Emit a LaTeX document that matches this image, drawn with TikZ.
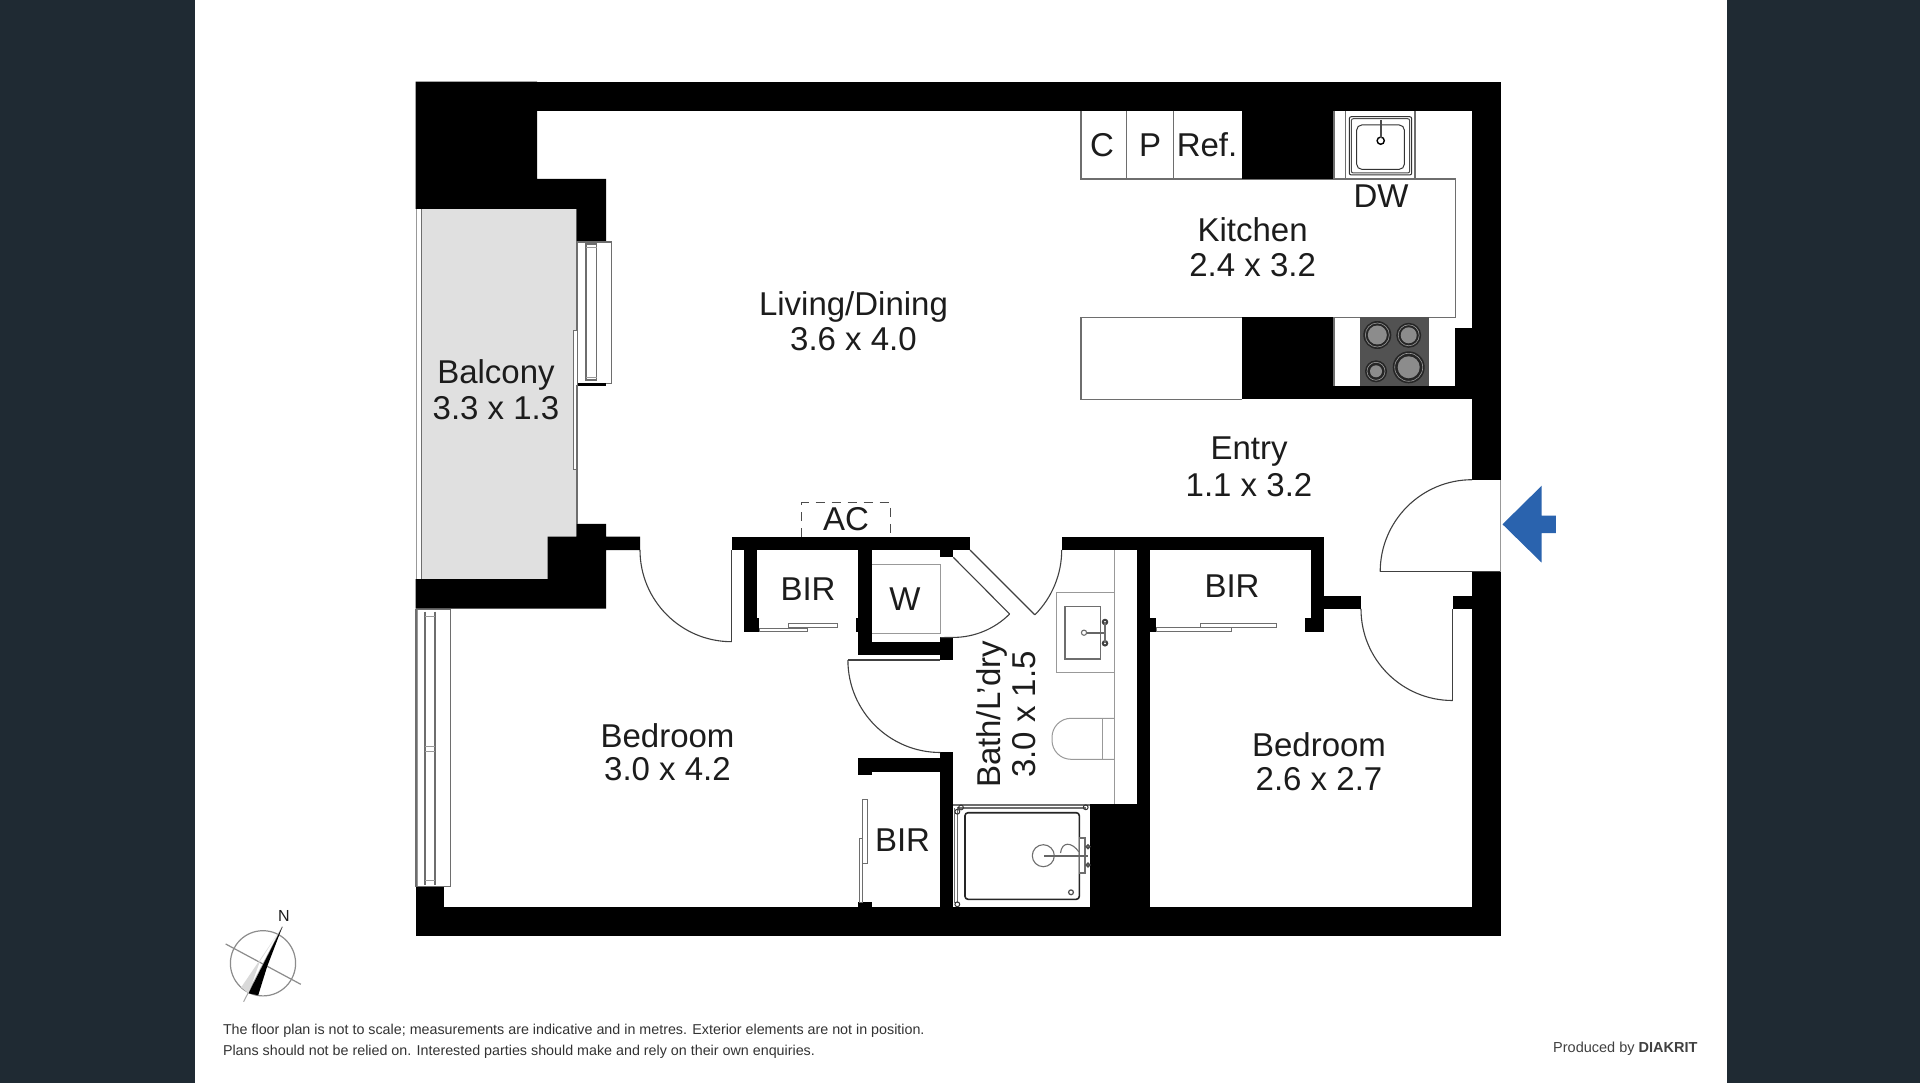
\documentclass[tikz,border=0pt]{standalone}
\usepackage{fontspec}
\setmainfont{Liberation Sans}
\definecolor{panel}{HTML}{1F2A33}
\definecolor{txt}{HTML}{1C1C1C}
\definecolor{balc}{HTML}{E0E0E0}
\definecolor{fixline}{HTML}{6E6E6E}
\definecolor{arrowblue}{HTML}{2A63AE}
\tikzset{
  wall/.style={fill=black,draw=none},
  fix/.style={draw=fixline,line width=1.1pt},
  fixlight/.style={draw=fixline!70,line width=1pt},
  door/.style={draw=black!75,line width=1.1pt},
  slider/.style={draw=fixline,fill=white,line width=1pt},
  lab/.style={font=\fontsize{33}{35}\selectfont,text=txt,align=center,inner sep=0pt},
  note/.style={font=\fontsize{14.3}{16}\selectfont,text=black!80,anchor=base west,inner sep=0pt},
}
\begin{document}
\begin{tikzpicture}[x=1pt,y=-1pt]
\useasboundingbox (0,0) rectangle (1920,1083);
\fill[white] (0,0) rectangle (1920,1083);
\fill[panel] (0,0) rectangle (194.5,1083);
\fill[panel] (1726.7,0) rectangle (1920,1083);

% balcony floor
\fill[balc] (421.3,208.8) rectangle (576.3,579);
\fill[white] (547.7,536.6) rectangle (580,579);
\draw[fix] (421.3,208.8) -- (421.3,579);
\draw[fixlight] (416,208.8) -- (416,579);

% outer walls
\fill[wall] (415.7,81.7) rectangle (1501,110.6);
\fill[wall] (415.7,81.7) -- (537,81.7) -- (537,178.8) -- (606,178.8) -- (606,243.2) -- (576.3,243.2) -- (576.3,208.8) -- (415.7,208.8) -- cycle;
\fill[wall] (576.3,523.9) -- (606,523.9) -- (606,536.7) -- (640,536.7) -- (640,550) -- (606,550) -- (606,608.7) -- (415.7,608.7) -- (415.7,579) -- (547.7,579) -- (547.7,536.6) -- (576.3,536.6) -- cycle;
\fill[wall] (1472.2,81.7) rectangle (1501,480);
\fill[wall] (1472.2,571.7) rectangle (1501,936.3);
\fill[wall] (415.7,907.3) rectangle (1501,936.3);
\fill[wall] (415.7,886) rectangle (444.3,936.3);

% kitchen joinery
\draw[fix] (1081,110.7) -- (1081,179) -- (1455.7,179) -- (1455.7,317.3) -- (1081,317.3) -- (1081,399.3) -- (1241.7,399.3);
\draw[fix] (1126.7,110.7) -- (1126.7,179);
\draw[fix] (1173.3,110.7) -- (1173.3,179);
\fill[wall] (1241.7,110.7) rectangle (1334,179);
\fill[wall] (1241.7,317.3) rectangle (1334,399.3);
\fill[wall] (1334,386) rectangle (1472.2,399.3);
\fill[wall] (1455,328.3) rectangle (1472.2,386);
\draw[fix] (1334,110.7) -- (1334,179);
\draw[fix] (1345.3,110.7) -- (1345.3,179);
\draw[fix] (1415,110.7) -- (1415,179);
\draw[fix] (1334,317.3) -- (1334,386);
% sink
\draw[draw=black!80,line width=1pt,rounded corners=2pt] (1349.3,116.7) rectangle (1411.7,175);
\draw[draw=black!70,line width=1pt,rounded corners=2pt] (1351.3,118.7) rectangle (1409.7,173);
\draw[draw=black!80,line width=1pt,rounded corners=5pt] (1356.7,125) rectangle (1404.3,169.3);
\draw[draw=black,line width=1.4pt] (1380.7,140.7) circle[radius=3.6pt];
\draw[draw=black!70,line width=2.4pt] (1380.7,120) -- (1380.7,138);
% cooktop
\fill[black!68] (1360,317.3) rectangle (1429.3,386);
\foreach \cx/\cy/\ro/\ri in {1377.3/335/14/9.5,1408.7/335.3/12.5/8,1376/371.3/11/6,1408.7/367.3/16/11}{
  \fill[black!85] (\cx,\cy) circle[radius=\ro pt];
  \draw[black!40,line width=.6pt] (\cx,\cy) circle[radius=\ro pt - 2pt];
  \fill[black!45] (\cx,\cy) circle[radius=\ri pt];
}

% living window and balcony door
\draw[fix,fill=white] (577,242) rectangle (611.7,383.4);
\draw[fix] (586,244) rectangle (596.7,380);
\draw[fixlight] (586,248) -- (596.7,248);
\draw[fixlight] (586,377) -- (596.7,377);
\fill[wall] (577,382.5) rectangle (606,385.5);
\draw[slider] (573.7,330.7) rectangle (577,469.4);
\draw[fix] (577,385) -- (577,523.9);

% bedroom window
\draw[fix,fill=white] (416,609.5) rectangle (450.7,886.5);
\draw[fixlight] (417,609.5) -- (417,886);
\draw[fix] (425,611.5) -- (425,884.5);
\draw[fix] (435,611.5) -- (435,884.5);
\draw[fixlight] (425,616) -- (435,616);
\draw[fixlight] (425,746.7) -- (435,746.7);
\draw[fixlight] (425,751.7) -- (435,751.7);
\draw[fixlight] (425,880) -- (435,880);

% inner walls
\fill[wall] (731.7,536.7) rectangle (970,550);
\fill[wall] (743.5,550) rectangle (756.5,631.7);
\fill[wall] (756,618) rectangle (759,631.7);
\fill[wall] (856.4,618) rectangle (872,631.7);
\fill[wall] (858.2,550) rectangle (872,655);
\fill[wall] (858.2,641.7) rectangle (953.3,655);
\fill[wall] (940.4,636.7) rectangle (953.3,660);
\fill[wall] (940.4,550) rectangle (953.3,557.3);
\fill[wall] (1061.5,536.7) rectangle (1324.4,550);
\fill[wall] (1137,550) rectangle (1150.3,907.3);
\fill[wall] (1150,618.3) rectangle (1156.4,631.7);
\fill[wall] (1311,550) rectangle (1324.4,631.7);
\fill[wall] (1305.2,618.3) rectangle (1324.4,631.7);
\fill[wall] (1324,595.7) rectangle (1361,609);
\fill[wall] (1452.5,595.7) rectangle (1472.5,609);
\fill[wall] (940.4,751.7) rectangle (953.3,907.3);
\fill[wall] (858.2,758.3) rectangle (940.4,771.7);
\fill[wall] (858.2,770) rectangle (872,775);
\fill[wall] (858.2,902.3) rectangle (872,907.5);
\fill[wall] (1090,804) rectangle (1137.2,907.3);

% AC
\draw[draw=black!70,line width=1pt,dash pattern=on 9pt off 7pt] (801.6,536.7) -- (801.6,502.7) -- (890.4,502.7) -- (890.4,536.7);

% doors
\draw[door] (731.7,550) -- (731.7,641.7);
\draw[door] (640,550) arc[start angle=180,end angle=270,radius=91.7pt];
\draw[door] (1009.6,614) -- (953.3,557.3);
\draw[door] (970,550) -- (1034.8,614.8);
\draw[door] (1009.6,614) arc[start angle=-45,end angle=-90,radius=80pt] -- (940.4,637.6);
\draw[door] (1061.7,550) arc[start angle=0,end angle=-45,radius=91.7pt];
\draw[door] (847.9,660) -- (940.4,660);
\draw[door] (847.9,660) arc[start angle=180,end angle=270,radius=92.5pt];
\draw[door] (1452.5,609) -- (1452.5,700.7);
\draw[door] (1361,609) arc[start angle=180,end angle=270,radius=91.5pt];
\draw[door] (1380.2,571.7) -- (1501,571.7);
\draw[door] (1380.2,571.7) arc[start angle=180,end angle=90,radius=92pt];
\draw[fixlight] (1500.7,480) -- (1500.7,571.7);

% sliding robe doors
\draw[slider] (759,628.3) rectangle (807,631.7);
\draw[slider] (788,623.7) rectangle (837.5,627.7);
\draw[slider] (1156.4,627.3) rectangle (1231,631.3);
\draw[slider] (1200.8,623.7) rectangle (1276.6,627.7);
\draw[slider] (862.7,799.3) rectangle (867.1,863.3);
\draw[slider] (859,838.3) rectangle (862.7,902.3);

% washer
\draw[fixlight] (872,564.3) -- (940.4,564.3) -- (940.4,633.3) -- (872,633.3);

% bath fittings
\draw[fixlight] (1114.2,550) -- (1114.2,804);
\draw[fixlight] (1056.9,592.3) -- (1056.9,672.7) -- (1114.2,672.7);
\draw[fixlight] (1056.9,592.3) -- (1114.2,592.3);
\draw[fix] (1065,606.7) rectangle (1100.2,659);
\draw[fix] (1084,632.7) circle[radius=2.6pt];
\draw[draw=black!60,line width=1.8pt] (1086.6,632.7) -- (1105,632.7);
\draw[draw=black!75,line width=2pt] (1105,622) circle[radius=2.2pt];
\draw[draw=black!75,line width=2pt] (1105,643.3) circle[radius=2.2pt];
\draw[fix,line width=1.6pt] (1105,622) -- (1105,643.3);
\draw[fixlight] (1114.2,718.3) -- (1071,718.3) arc[start angle=90,end angle=180,radius=19pt] -- (1052,740.3) arc[start angle=180,end angle=270,radius=19pt] -- (1114.2,759.3);
\draw[fixlight] (1102,718.3) -- (1102,759.3);

% shower
\draw[fix,line width=1.3pt] (953.3,805) -- (1090,805);
\draw[fix] (957,808) -- (1086,808);
\draw[fix] (954.5,808) -- (954.5,903);
\draw[fix] (957.5,810) -- (957.5,903);
\draw[draw=black!85,line width=1.6pt,rounded corners=3pt] (965,812.7) rectangle (1079.3,899.3);
\foreach \cx/\cy in {957.3/811.7,961/807.5,1085.7/807.3,957.3/904.3}{\draw[draw=black!80,line width=1pt] (\cx,\cy) circle[radius=2.4pt];}
\draw[fix] (1043.3,855.7) circle[radius=11pt];
\draw[fix] (1060.5,853) .. controls (1062,841) and (1072,842) .. (1079,852);
\draw[fix,fill=white] (1079.5,838) rectangle (1085,873);
\draw[draw=black!60,line width=2.4pt] (1044,855.7) -- (1088,855.7);
\draw[draw=black!70,line width=1.6pt] (1088,846.7) circle[radius=1.8pt];
\draw[draw=black!70,line width=1.6pt] (1088,865) circle[radius=1.8pt];
\draw[draw=black!70,line width=1.2pt] (1071,892.3) circle[radius=2.4pt];

% entry arrow
\fill[arrowblue] (1502.5,524.3) -- (1541.7,485.7) -- (1541.7,515.7) -- (1555.9,515.7) -- (1555.9,533) -- (1541.7,533) -- (1541.7,562.7) -- cycle;

% labels
\node[lab,font=\fontsize{33}{36}\selectfont] (balcony) at (496,389.5) {Balcony\\3.3 x 1.3};
\node[lab] (living) at (853.5,321) {Living/Dining\\3.6 x 4.0};
\node[lab] (kitchen) at (1252.6,247.5) {Kitchen\\2.4 x 3.2};
\node[lab,font=\fontsize{33}{37}\selectfont] (entry) at (1249,466.5) {Entry\\1.1 x 3.2};
\node[lab,font=\fontsize{33}{33.5}\selectfont] (bed1) at (667.5,752) {Bedroom\\3.0 x 4.2};
\node[lab,font=\fontsize{33}{34}\selectfont] (bed2) at (1319,761.5) {Bedroom\\2.6 x 2.7};
\node[lab,rotate=90] (bath) at (1006,714.5) {Bath/L'dry\\3.0 x 1.5};
\node[lab] (c) at (1102,145) {C};
\node[lab] (p) at (1150,145) {P};
\node[lab] (ref) at (1207,145) {Ref.};
\node[lab] (dw) at (1381,196) {DW};
\node[lab] (ac) at (846,519.5) {AC};
\node[lab] (bira) at (808,589) {BIR};
\node[lab] (w) at (905,599.5) {W};
\node[lab] (birb) at (1232,586) {BIR};
\node[lab] (birc) at (902.5,840) {BIR};

% compass
\draw[draw=black!45,line width=1.2pt] (263,963.3) circle[radius=32.6pt];
\draw[draw=black!45,line width=1.2pt] (225.7,944) -- (300.8,984.3);
\draw[draw=black!35,line width=1pt] (243.6,1001.7) -- (282.4,926.7);
\fill[black!15] (282.4,926.7) -- (260,961) -- (248.5,993.3) -- (241.2,987.3) -- cycle;
\fill[black] (282.4,926.7) -- (267,967) -- (258.2,995.3) -- (248.5,993.3) -- cycle;
\node[font=\fontsize{16}{18}\selectfont,text=txt,inner sep=0pt] (north) at (284,915.5) {N};

% notes
\node[note] (n1) at (222.8,1034) {The floor plan is not to scale; measurements are indicative and in metres. Exterior elements are not in position.};
\node[note] (n2) at (222.8,1055.5) {Plans should not be relied on. Interested parties should make and rely on their own enquiries.};
\node[font=\fontsize{14.5}{16}\selectfont,text=black!75,anchor=base west,inner sep=0pt] (prod) at (1553,1052) {Produced by \textbf{DIAKRIT}};
\end{tikzpicture}
\end{document}
